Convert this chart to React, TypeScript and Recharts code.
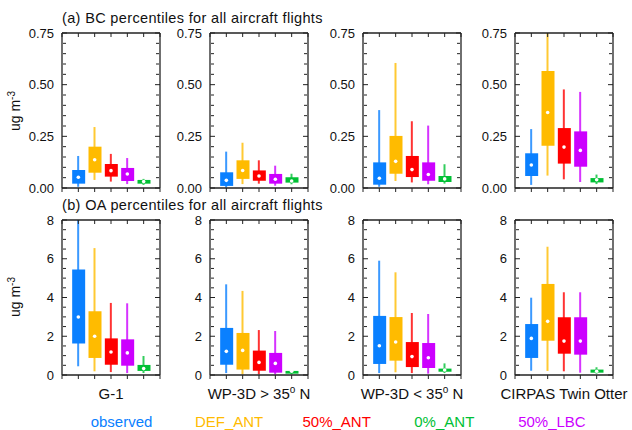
import { ComposedChart, Bar, Scatter, XAxis, YAxis, Cell } from "recharts";

// legend order
const seriesNames = ["observed", "DEF_ANT", "50%_ANT", "0%_ANT", "50%_LBC"];
const seriesColors = ["#0a80ff", "#ffbb00", "#ff0000", "#00c034", "#cc00ff"];
// order of the boxes inside each panel: observed, DEF_ANT, 50%_ANT, 50%_LBC, 0%_ANT
const boxOrder = [0, 1, 2, 4, 3];

const platforms = ["G-1", "WP-3D > 35", "WP-3D < 35", "CIRPAS Twin Otter"];

// [p5, p25, p50, p75, p95] for each box (box order)
const bcG1 = [
  [0.006, 0.021, 0.052, 0.087, 0.155],
  [0.039, 0.074, 0.137, 0.2, 0.295],
  [0.031, 0.055, 0.084, 0.116, 0.165],
  [0.019, 0.034, 0.068, 0.097, 0.145],
  [0.015, 0.021, 0.031, 0.039, 0.044],
];
const bcWpNorth = [
  [0.002, 0.01, 0.037, 0.076, 0.176],
  [0.019, 0.044, 0.085, 0.134, 0.219],
  [0.021, 0.035, 0.058, 0.085, 0.134],
  [0.011, 0.021, 0.042, 0.068, 0.108],
  [0.018, 0.026, 0.034, 0.052, 0.069],
];
const bcWpSouth = [
  [0.006, 0.016, 0.047, 0.124, 0.377],
  [0.034, 0.069, 0.129, 0.252, 0.605],
  [0.027, 0.053, 0.089, 0.155, 0.323],
  [0.018, 0.035, 0.065, 0.124, 0.302],
  [0.021, 0.029, 0.044, 0.058, 0.115],
];
const bcCirpas = [
  [0.015, 0.058, 0.111, 0.168, 0.285],
  [0.06, 0.205, 0.365, 0.566, 0.75],
  [0.042, 0.118, 0.198, 0.29, 0.477],
  [0.029, 0.103, 0.182, 0.274, 0.465],
  [0.019, 0.027, 0.04, 0.048, 0.065],
];

const oaG1 = [
  [0.45, 1.62, 2.99, 5.45, 8.0],
  [0.19, 0.88, 2.0, 3.29, 6.55],
  [0.15, 0.53, 1.19, 1.89, 3.72],
  [0.1, 0.48, 1.14, 1.84, 3.7],
  [0.1, 0.21, 0.33, 0.52, 0.98],
];
const oaWpNorth = [
  [0.1, 0.53, 1.22, 2.43, 4.68],
  [0.03, 0.28, 1.27, 2.17, 4.34],
  [0.03, 0.22, 0.65, 1.26, 2.32],
  [0.03, 0.12, 0.6, 1.14, 2.27],
  [0.03, 0.07, 0.19, 0.21, 0.22],
];
const oaWpSouth = [
  [0.1, 0.57, 1.51, 3.05, 5.9],
  [0.14, 0.74, 1.7, 2.99, 5.3],
  [0.1, 0.41, 0.95, 1.7, 3.2],
  [0.07, 0.36, 0.89, 1.65, 3.15],
  [0.1, 0.17, 0.26, 0.33, 0.6],
];
const oaCirpas = [
  [0.22, 0.88, 1.89, 2.63, 3.99],
  [0.21, 1.77, 2.77, 4.7, 6.62],
  [0.19, 1.1, 1.75, 2.98, 4.27],
  [0.12, 1.05, 1.75, 2.98, 4.27],
  [0.07, 0.12, 0.19, 0.28, 0.4],
];

const bcTicks = [0, 0.25, 0.5, 0.75];
const bcMinor = [0.05, 0.1, 0.15, 0.2, 0.3, 0.35, 0.4, 0.45, 0.55, 0.6, 0.65, 0.7];
const oaTicks = [0, 2, 4, 6, 8];
const oaMinor = [0.5, 1, 1.5, 2.5, 3, 3.5, 4.5, 5, 5.5, 6.5, 7, 7.5];
const xTicks = [0, 1, 2, 3, 4, 5, 6];

const FONT = "'Liberation Sans', Arial, Helvetica, sans-serif";
const FRAME = "#222";
const PW = 98;
const PH = 155;
const LW = 40;
const PAD = 10;
const panelLeft = [62, 210, 363, 515];
const rowTop = [33, 220];

const noLabel = () => <g />;

function Panel({ values, left, top, yMax, ticks, minor, fmt }: any) {
  const rows = values.map((p: number[], i: number) => ({
    pos: i + 1,
    whisker: [p[0], p[4]],
    box: [p[1], p[3]],
    median: p[2],
    color: seriesColors[boxOrder[i]],
  }));
  const domain = [0, yMax];
  const line = { stroke: FRAME, strokeWidth: 1.3 };
  const tl = { stroke: FRAME };
  return (
    <div style={{ position: "absolute", left: left - LW, top: top - PAD }}>
      <ComposedChart width={LW + PW + 4} height={PH + 2 * PAD} data={rows} margin={{ top: PAD, right: 4, bottom: 0, left: 0 }}>
        <XAxis xAxisId="b" dataKey="pos" type="number" domain={[0, 6]} ticks={xTicks} interval={0} tick={noLabel} height={PAD} tickSize={4}
          axisLine={line} tickLine={tl} allowDataOverflow />
        <XAxis xAxisId="t" dataKey="pos" type="number" orientation="top" mirror height={1} domain={[0, 6]} ticks={xTicks} interval={0} tick={noLabel} tickSize={4}
          axisLine={line} tickLine={tl} allowDataOverflow />
        <YAxis yAxisId="l" type="number" domain={domain} ticks={ticks} interval={0} tickFormatter={fmt} width={LW} tickLine={false}
          axisLine={line} tick={{ fontSize: 13, fill: "#111", fontFamily: FONT }} allowDataOverflow />
        <YAxis yAxisId="lm" type="number" mirror width={1} domain={domain} ticks={ticks} interval={0} tick={noLabel} tickSize={5} axisLine={false}
          tickLine={tl} allowDataOverflow />
        <YAxis yAxisId="ln" type="number" mirror width={1} domain={domain} ticks={minor} interval={0} tick={noLabel} tickSize={3} axisLine={false}
          tickLine={tl} allowDataOverflow />
        <YAxis yAxisId="r" type="number" orientation="right" mirror width={1} domain={domain} ticks={ticks} interval={0} tick={noLabel} tickSize={5}
          axisLine={line} tickLine={tl} allowDataOverflow />
        <YAxis yAxisId="rn" type="number" orientation="right" mirror width={1} domain={domain} ticks={minor} interval={0} tick={noLabel} tickSize={3}
          axisLine={false} tickLine={tl} allowDataOverflow />
        <Bar xAxisId="b" yAxisId="l" dataKey="whisker" barSize={2} fillOpacity={0.8} isAnimationActive={false}>
          {rows.map((r: any, i: number) => <Cell key={i} fill={r.color} />)}
        </Bar>
        <Bar xAxisId="t" yAxisId="l" dataKey="box" barSize={13} isAnimationActive={false}>
          {rows.map((r: any, i: number) => <Cell key={i} fill={r.color} />)}
        </Bar>
        <Scatter xAxisId="t" yAxisId="l" dataKey="median" isAnimationActive={false}
          shape={(s: any) => <circle cx={s.cx} cy={s.cy} r={1.8} fill="#fff" />} />
      </ComposedChart>
    </div>
  );
}

function Unit({ x, y }: { x: number; y: number }) {
  return (
    <text transform={`translate(${x},${y}) rotate(-90)`} textAnchor="middle" fontSize={14} fill="#111">
      ug m<tspan dy={-5} fontSize={10}>-3</tspan>
    </text>
  );
}

export default function App() {
  const bc = [bcG1, bcWpNorth, bcWpSouth, bcCirpas];
  const oa = [oaG1, oaWpNorth, oaWpSouth, oaCirpas];
  const fmtBc = (v: number) => v.toFixed(2);
  const fmtOa = (v: number) => String(v);
  return (
    <div style={{ position: "absolute", left: 0, top: 0, width: 632, height: 430, background: "#fff", fontFamily: FONT }}>
      <svg width={632} height={430} style={{ position: "absolute", left: 0, top: 0 }} fontFamily={FONT}>
        <text x={62} y={23} fontSize={14.5} letterSpacing={0.35} fill="#111">(a) BC percentiles for all aircraft flights</text>
        <text x={62} y={210} fontSize={14.5} letterSpacing={0.35} fill="#111">(b) OA percentiles for all aircraft flights</text>
        <Unit x={20} y={111} />
        <Unit x={20} y={297} />
        {platforms.map((p, i) => (
          <text key={p} x={panelLeft[i] + PW / 2} y={399} textAnchor="middle" fontSize={15} fill="#111">
            {p}
            {i === 1 || i === 2 ? (
              <>
                <tspan dy={-6} fontSize={10}>o</tspan>
                <tspan dy={6}> N</tspan>
              </>
            ) : null}
          </text>
        ))}
        {seriesNames.map((s, i) => (
          <text key={s} x={121.5 + i * 107.6} y={427} textAnchor="middle" fontSize={15} fill={seriesColors[i]}>
            {s}
          </text>
        ))}
      </svg>
      {bc.map((v, i) => (
        <Panel key={"a" + i} values={v} left={panelLeft[i]} top={rowTop[0]} yMax={0.75} ticks={bcTicks} minor={bcMinor} fmt={fmtBc} />
      ))}
      {oa.map((v, i) => (
        <Panel key={"b" + i} values={v} left={panelLeft[i]} top={rowTop[1]} yMax={8} ticks={oaTicks} minor={oaMinor} fmt={fmtOa} />
      ))}
    </div>
  );
}
